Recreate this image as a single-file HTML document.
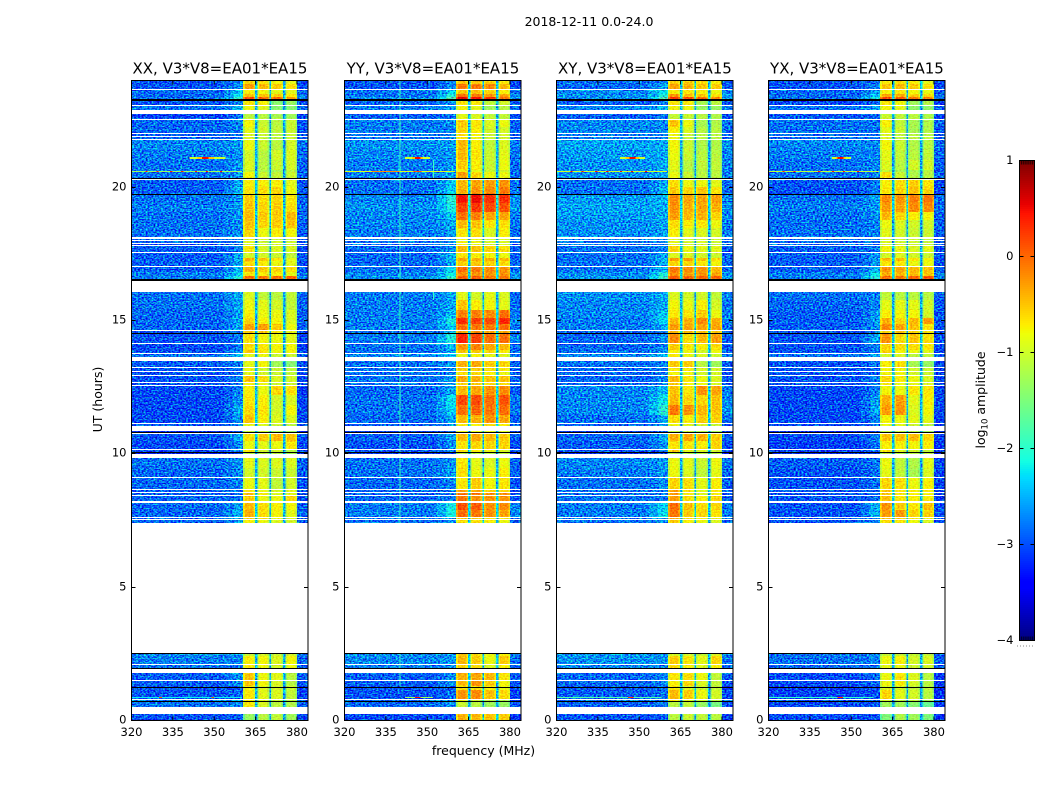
<!DOCTYPE html>
<html lang="en">
<head>
<meta charset="utf-8">
<title>2018-12-11 0.0-24.0</title>
<style>
html,body{margin:0;padding:0;background:#fff;width:1050px;height:800px;overflow:hidden}
svg{display:block}
text{font-family:"DejaVu Sans","Liberation Sans",sans-serif;fill:#000}
.tick{font-size:11.5px}
.title{font-size:15px;text-anchor:middle}
.label{font-size:12.5px;text-anchor:middle}
</style>
</head>
<body>
<svg id="chart" xmlns="http://www.w3.org/2000/svg" width="1050" height="800" viewBox="0 0 1050 800">
  <defs>
    <filter id="speckle-strong" x="0" y="0" width="1" height="1" color-interpolation-filters="sRGB">
      <feTurbulence type="fractalNoise" baseFrequency="0.52 0.72" numOctaves="1" seed="4" result="n"/>
      <feColorMatrix in="n" type="matrix" values="0.4 0 0 0 0.3  0 2.2 0 0 -0.62  0 0 1.2 0 -0.1  0 0 0 0 1" result="m"/>
      <feComposite in="SourceGraphic" in2="m" operator="arithmetic" k1="0" k2="1" k3="1" k4="-0.5" result="c"/>
      <feComposite in="c" in2="SourceAlpha" operator="in"/>
    </filter>
    <filter id="speckle-soft" x="0" y="0" width="1" height="1" color-interpolation-filters="sRGB">
      <feTurbulence type="fractalNoise" baseFrequency="0.55 0.75" numOctaves="1" seed="9" result="n"/>
      <feColorMatrix in="n" type="matrix" values="0.4 0 0 0 0.3  0 0.75 0 0 0.125  0 0 0.4 0 0.3  0 0 0 0 1" result="m"/>
      <feComposite in="SourceGraphic" in2="m" operator="arithmetic" k1="0" k2="1" k3="1" k4="-0.5" result="c"/>
      <feComposite in="c" in2="SourceAlpha" operator="in"/>
    </filter>
  </defs>
  <rect width="1050" height="800" fill="#fff"/>
  <text x="589" y="26" style="font-size:12.5px;text-anchor:middle">2018-12-11 0.0-24.0</text>
  <text class="label" x="483.5" y="755">frequency (MHz)</text>
  <text class="label" transform="translate(102,399.5) rotate(-90)">UT (hours)</text>
  <text class="label" transform="translate(985,400) rotate(-90)">log<tspan style="font-size:8.5px" dy="2.5">10</tspan><tspan dy="-2.5"> amplitude</tspan></text>
  <g id="panels"></g>
  <g id="colorbar"></g>
</svg>
<script>
/* ---------- chart data ---------- */
const panelNames = ["XX", "YY", "XY", "YX"];
const xTickValues = [320, 335, 350, 365, 380];
const yTickValues = [0, 5, 10, 15, 20];
const colorbarTicks = [1, 0, -1, -2, -3, -4];

/* frequency blocks, MHz */
const bandEdges = [[360.5, 364.8], [365.7, 370.0], [370.6, 375.0], [375.8, 380.0]];
const humpEdges = [353.5, 357, 360.5];

/* observed time blocks, hours UT (everything else is flagged and stays white) */
const rowTop = [24.00,23.85,23.63,23.48,23.36,23.21,23.03,22.73,22.56,22.50,
  22.24,21.98,21.86,21.75,21.38,21.00,20.63,20.55,20.25,19.99,
  19.69,19.39,19.05,18.75,18.45,18.04,17.96,17.85,17.78,17.51,
  17.33,17.21,16.99,16.80,16.65,16.05,15.75,15.38,15.08,14.85,
  14.59,14.48,14.10,13.88,13.73,13.46,13.20,13.05,12.90,12.64,
  12.53,12.19,11.81,11.44,11.10,10.84,10.73,10.46,10.13,10.01,
  9.83,9.45,9.08,8.63,8.51,8.40,8.14,7.88,7.58,7.50,
  2.53,2.40,2.06,1.78,1.46,1.28,1.13,0.75,0.68,0.23];
const rowBottom = [23.85,23.66,23.48,23.36,23.25,23.06,22.89,22.58,22.53,22.24,
  22.01,21.90,21.79,21.38,21.00,20.63,20.55,20.31,19.99,19.73,
  19.39,19.05,18.75,18.45,18.11,18.00,17.89,17.81,17.55,17.33,
  17.21,17.03,16.80,16.65,16.52,15.75,15.38,15.08,14.85,14.61,
  14.51,14.14,13.88,13.76,13.61,13.24,13.09,12.94,12.68,12.56,
  12.19,11.81,11.44,11.14,11.03,10.76,10.46,10.16,10.05,9.98,
  9.45,9.11,8.66,8.55,8.44,8.21,7.88,7.61,7.54,7.39,
  2.40,2.10,1.95,1.50,1.28,1.13,0.79,0.71,0.49,0.00];

/* dead integrations drawn black, hours UT [top, bottom] */
const blackTop = [23.29,20.33,19.73,16.55,14.51,10.80,10.05,2.53,1.95,1.23,0.71];
const blackBottom = [23.21,20.27,19.69,16.48,14.48,10.76,10.01,2.51,1.92,1.19,0.68];

/* log10 amplitude per row: [background, hump, band1, band2, band3, band4] */
const levelsXX = [
[-3,-2.7,-.45,-.5,-.65,-.75],[-3,-2.6,-.15,-.3,-.4,-.5],[-2.9,-2.3,-.6,-.65,-.75,-.75],[-2.9,-2.1,-.3,-.35,-.4,-.55],[-2.85,-1.8,.25,.15,.1,-.15],
[-3,-2.7,-.55,-.6,-1.3,-1.2],[-2.85,-2.4,-.7,-.75,-1.3,-1.3],[-3.1,-2.8,-1,-1,-1.1,-1.15],[-2.9,-2.7,-.9,-1,-1,-1.1],[-2.9,-2.7,-.65,-.9,-1,-.9],
[-2.9,-2.7,-.75,-.85,-.95,-.9],[-2.95,-2.8,-.8,-.9,-1,-.9],[-2.9,-2.8,-.8,-.95,-1,-.9],[-2.75,-2.6,-.7,-.9,-1,-.85],[-2.8,-2.65,-.85,-1,-.85,-.8],
[-2.85,-2.6,-.8,-1,-.9,-.85],[-2.8,-2.6,-.9,-1.05,-1.1,-1],[-2.85,-2.6,-.65,-.9,-.95,-.9],[-2.95,-2.5,-.6,-.6,-.6,-.75],[-2.95,-2.4,-.55,-.5,-.45,-.7],
[-2.85,-2.6,-.4,-.5,-.45,-.55],[-2.8,-2.6,-.35,-.45,-.4,-.5],[-2.85,-2.6,-.3,-.4,-.4,-.3],[-2.85,-2.65,-.35,-.45,-.4,-.35],[-2.85,-2.65,-.45,-.7,-.6,-.65],
[-2.9,-2.8,-.7,-.8,-.9,-.9],[-2.9,-2.8,-.75,-.9,-.85,-.9],[-3,-2.8,-.8,-.9,-.85,-.9],[-2.95,-2.7,-.55,-.8,-.8,-.8],[-2.95,-2.5,-.85,-.85,-.9,-.95],
[-2.95,-2.4,-.25,-.35,-.55,-.75],[-2.95,-2.5,-.5,-.6,-.7,-.75],[-2.95,-2.4,-.25,-.4,-.45,-.5],[-2.8,-2.3,-.55,-.6,-.6,-.75],[-2.8,-1.95,.1,.05,.1,.15],
[-2.85,-2.5,-.8,-.95,-1,-.95],[-2.85,-2.5,-.7,-.75,-.85,-.95],[-2.9,-2.55,-.6,-.7,-.7,-.8],[-2.9,-2.5,-.45,-.6,-.65,-.8],[-2.9,-2.5,-.15,-.15,-.4,-.7],
[-3,-2.8,-.35,-.4,-.55,-.7],[-3,-2.75,-.5,-.65,-.7,-.75],[-3.05,-2.75,-.5,-.55,-.65,-.65],[-3,-2.6,-.35,-.55,-.7,-.65],[-2.85,-2.4,-.75,-.7,-.9,-.9],
[-2.95,-2.7,-.75,-.65,-1.15,-1.3],[-3,-2.8,-.7,-.85,-.9,-.95],[-3,-2.8,-.75,-.85,-.9,-.95],[-3,-2.7,-.35,-.5,-.8,-.85],[-3,-2.7,-.6,-.7,-.9,-.9],
[-3.05,-2.7,-.6,-.7,-.45,-.5],[-3.05,-2.6,-.55,-.6,-.85,-.8],[-3.05,-2.45,-.45,-.55,-.85,-.65],[-3.05,-2.6,-.35,-.6,-.8,-.8],[-3,-2.6,-.7,-.8,-.9,-1],
[-3.2,-3,-.9,-.9,-1.1,-1.2],[-3,-2.45,-.5,-.4,-.3,-.35],[-3.05,-2.6,-.7,-.75,-.7,-.55],[-3.05,-2.7,-.55,-.85,-.85,-1],[-3.3,-3,-1,-1,-1,-1.1],
[-2.85,-2.65,-.75,-.8,-.8,-.8],[-2.9,-2.65,-.85,-.85,-.9,-.9],[-2.9,-2.7,-.7,-.75,-.95,-.85],[-2.95,-2.8,-.55,-.7,-.8,-.75],[-2.95,-2.8,-.3,-.6,-.8,-.75],
[-2.9,-2.8,-.4,-.7,-.7,-.45],[-2.9,-2.55,-.3,-.5,-.6,-.65],[-2.9,-2.4,-.25,-.5,-.65,-.75],[-2.9,-2.6,-.5,-.6,-.7,-.8],[-2.9,-2.6,-.6,-.7,-.8,-.85],
[-2.7,-2.6,-.9,-.85,-.9,-.85],[-2.8,-2.7,-.6,-.65,-.8,-.65],[-2.85,-2.8,-.55,-.7,-.85,-.7],[-2.95,-2.6,-.35,-.7,-.75,-1],[-2.95,-2.6,-.35,-.65,-.8,-1],
[-3,-2.9,-.65,-.8,-.85,-.9],[-3,-2.85,-.55,-.75,-.8,-.95],[-2.8,-2.6,-.6,-.8,-.9,-1],[-2.85,-2.7,-.55,-.8,-1,-1.05],[-3,-2.9,-1.2,-1,-.95,-1.15]
];
const levelsYY = [
[-3,-2.7,-.35,-.35,-.4,-.55],[-3,-2.6,.05,.05,-.05,-.3],[-2.85,-2.2,-.35,-.35,-.45,-.6],[-2.85,-1.9,.1,.05,-.1,-.2],[-2.7,-1.6,.7,.6,.4,.1],
[-2.9,-2.6,-.55,-.55,-.95,-.85],[-2.8,-2.5,-.65,-.75,-1.15,-1],[-2.95,-2.8,-.75,-.8,-.95,-.95],[-2.9,-2.7,-.7,-.8,-.9,-1],[-2.8,-2.7,-.4,-.55,-.8,-.7],
[-2.8,-2.7,-.45,-.6,-.85,-.85],[-2.85,-2.75,-.5,-.65,-.9,-.85],[-2.85,-2.7,-.5,-.7,-.9,-.85],[-2.7,-2.55,-.3,-.6,-.95,-.8],[-2.75,-2.6,-.3,-.55,-.9,-.75],
[-2.8,-2.6,-.4,-.6,-.9,-.7],[-2.8,-2.6,-.6,-.75,-.9,-.85],[-2.8,-2.55,-.15,-.45,-.7,-.7],[-2.85,-2.3,-.3,-.2,-.15,-.1],[-2.85,-2.2,-.25,-.1,-.05,.05],
[-2.75,-1.9,.6,.65,.45,.45],[-2.7,-2,.35,.4,.3,.25],[-2.75,-2.3,.1,0,-.2,-.2],[-2.75,-2.5,-.3,-.35,-.55,-.5],[-2.8,-2.55,-.55,-.5,-.8,-.6],
[-2.85,-2.7,-.65,-.7,-.85,-.8],[-2.85,-2.7,-.65,-.7,-.85,-.8],[-2.9,-2.7,-.6,-.7,-.85,-.8],[-2.9,-2.6,-.3,-.35,-.45,-.5],[-2.9,-2.45,-.55,-.6,-.65,-.7],
[-2.9,-2.3,-.2,-.25,-.25,-.3],[-2.9,-2.5,-.4,-.4,-.45,-.5],[-2.85,-2.2,.1,.05,-.05,-.1],[-2.75,-2.1,-.05,-.1,-.1,-.1],[-2.7,-1.85,.2,.2,.05,.05],
[-2.8,-2.5,-.75,-.85,-.75,-.8],[-2.8,-2.5,-.35,-.6,-.65,-.75],[-2.8,-2.4,0,0,-.05,.1],[-2.8,-2,.45,.35,.3,.5],[-2.8,-2.3,.1,.05,.05,.1],
[-2.85,-2.5,-.2,-.1,-.2,-.2],[-2.8,-1.95,.5,.35,.1,.1],[-2.85,-2.4,-.1,0,-.2,-.3],[-2.85,-2.5,-.35,-.4,-.5,-.6],[-2.75,-2.3,-.7,-.65,-.75,-.8],
[-2.85,-2.6,-.25,-.2,-.4,-.45],[-2.85,-2.7,-.4,-.4,-.5,-.55],[-2.85,-2.7,-.5,-.5,-.6,-.7],[-2.85,-2.6,-.2,-.25,-.35,-.35],[-2.85,-2.6,-.45,-.4,-.5,-.5],
[-2.9,-2.5,-.3,-.2,-.1,-.05],[-2.85,-2.1,.3,.3,.1,.25],[-2.85,-2.2,.1,.15,.05,.1],[-2.9,-2.5,-.3,-.25,-.1,-.2],[-2.95,-2.6,-.6,-.6,-.5,-.6],
[-3.1,-2.9,-.7,-.7,-.75,-.8],[-2.95,-2.5,-.3,-.2,-.3,-.4],[-3,-2.6,-.55,-.45,-.45,-.45],[-3,-2.7,-.5,-.6,-.7,-.8],[-3.2,-3,-1,-1,-1,-1],
[-2.85,-2.6,-.55,-.75,-.8,-.7],[-2.85,-2.55,-.5,-.7,-.7,-.6],[-2.9,-2.7,-.55,-.4,-.65,-.55],[-2.9,-2.8,-.2,-.2,-.4,-.45],[-2.9,-2.8,.1,.05,-.1,-.1],
[-2.9,-2.7,.05,-.1,-.1,-.1],[-2.8,-2,.25,.2,-.1,-.05],[-2.8,-2,.1,.05,-.1,-.2],[-2.85,-2.6,-.4,-.4,-.5,-.6],[-2.9,-2.65,-.5,-.5,-.6,-.7],
[-2.7,-2.6,-.4,-.5,-.7,-.6],[-2.75,-2.6,-.3,-.4,-.7,-.4],[-2.8,-2.7,-.4,-.5,-.8,-.6],[-2.95,-2.6,-.25,-.2,-.3,-.55],[-2.95,-2.6,-.3,-.1,-.4,-.65],
[-3,-2.85,-.5,-.5,-.6,-.7],[-3,-2.8,-.1,-.05,-.35,-.5],[-2.85,-2.7,-.7,-.9,-1,-1.1],[-2.9,-2.6,-.9,-1,-1.15,-1.2],[-3.05,-2.9,-.25,-.3,-.35,-.4]
];
const levelsXY = [
[-2.85,-2.7,-.4,-.4,-.5,-.6],[-2.9,-2.5,-.2,-.25,-.35,-.4],[-2.75,-2.2,-.6,-.55,-.6,-.7],[-2.7,-2,-.1,-.3,-.4,-.5],[-2.7,-1.7,.4,.25,.15,-.05],
[-2.95,-2.7,-.55,-.55,-1.1,-1],[-2.75,-2.4,-.65,-.7,-1.2,-1.2],[-2.95,-2.8,-.95,-.9,-1,-1.05],[-2.9,-2.7,-.9,-1,-1,-1.1],[-2.75,-2.7,-.35,-.7,-1.1,-1.05],
[-2.75,-2.7,-.6,-.8,-1,-1],[-2.8,-2.75,-.7,-.9,-1,-1],[-2.8,-2.7,-.7,-.95,-1,-1],[-2.6,-2.5,-.65,-.9,-1.05,-1.05],[-2.65,-2.5,-.7,-.9,-1,-1],
[-2.7,-2.5,-.75,-1,-.95,-.95],[-2.7,-2.5,-.85,-1.05,-1.05,-1],[-2.7,-2.5,-.7,-.9,-1,-1],[-2.85,-2.5,-.5,-.7,-.7,-.75],[-2.85,-2.4,-.4,-.45,-.35,-.55],
[-2.65,-2.4,-.05,-.2,-.2,-.15],[-2.6,-2.5,-.1,-.25,-.2,-.25],[-2.65,-2.5,-.15,-.3,-.25,-.45],[-2.7,-2.55,-.5,-.6,-.55,-.7],[-2.7,-2.55,-.6,-.75,-.8,-.85],
[-2.8,-2.7,-.75,-.85,-.85,-.9],[-2.8,-2.7,-.75,-.85,-.85,-.9],[-2.8,-2.7,-.75,-.85,-.85,-.9],[-2.85,-2.7,-.45,-.7,-.75,-.75],[-2.85,-2.55,-.8,-.8,-.85,-.9],
[-2.85,-2.4,-.15,-.15,-.35,-.5],[-2.85,-2.5,-.45,-.45,-.55,-.65],[-2.85,-2.4,.05,-.05,-.1,-.3],[-2.7,-2,-.05,-.15,-.1,-.2],[-2.7,-1.8,.2,.2,.15,.15],
[-2.7,-2.5,-.8,-.85,-.85,-.95],[-2.75,-2.5,-.65,-.7,-.6,-.85],[-2.75,-2.3,-.55,-.55,-.4,-.7],[-2.8,-2.2,-.3,-.25,-.05,-.25],[-2.8,-2.5,-.15,-.2,-.2,-.2],
[-2.9,-2.6,-.3,-.25,-.35,-.35],[-2.9,-2.6,-.05,-.5,-.3,-.15],[-2.9,-2.7,-.4,-.55,-.6,-.5],[-2.85,-2.6,-.6,-.7,-.85,-.7],[-2.75,-2.4,-.55,-.7,-.8,-.9],
[-2.85,-2.7,-.4,-.4,-1,-1.15],[-2.9,-2.8,-.55,-.6,-.8,-.85],[-2.9,-2.8,-.65,-.7,-.85,-.85],[-2.9,-2.7,-.3,-.55,-.7,-.8],[-2.9,-2.7,-.4,-.6,-.7,-.8],
[-2.75,-2.4,-.35,-.55,-.1,-.2],[-2.75,-2.1,-.3,-.45,-.45,-.35],[-2.75,-1.9,.05,-.1,-.3,-.35],[-2.85,-2.5,-.5,-.6,-.4,-.45],[-2.95,-2.7,-.7,-.75,-.85,-.9],
[-3.1,-2.9,-.95,-.9,-1.05,-1.1],[-2.9,-2.45,-.25,-.2,-.25,-.4],[-2.95,-2.6,-.55,-.55,-.6,-.45],[-3,-2.7,-.4,-.75,-.8,-.85],[-3.2,-3,-1,-1,-1,-1],
[-2.75,-2.6,-.7,-.75,-.9,-.7],[-2.8,-2.6,-.7,-.8,-.95,-.75],[-2.85,-2.65,-.45,-.5,-.75,-.6],[-2.85,-2.75,-.15,-.5,-.75,-.55],[-2.85,-2.75,-.15,-.55,-.8,-.6],
[-2.85,-2.75,-.15,-.5,-.6,-.45],[-2.8,-2.2,.1,-.35,-.5,-.45],[-2.8,-2.1,.05,-.4,-.45,-.55],[-2.85,-2.6,-.2,-.5,-.6,-.7],[-2.85,-2.6,-.4,-.6,-.7,-.8],
[-2.65,-2.6,-.85,-.85,-.9,-.8],[-2.7,-2.65,-.4,-.55,-.75,-.45],[-2.75,-2.7,-.5,-.6,-.8,-.6],[-2.9,-2.7,-.55,-.5,-.7,-.95],[-2.9,-2.7,-.6,-.45,-.8,-.95],
[-3,-2.85,-.55,-.8,-.9,-.95],[-2.95,-2.8,-.3,-.4,-.7,-.85],[-2.8,-2.7,-.6,-.8,-.9,-1],[-2.95,-2.8,-1,-.95,-1.2,-1.4],[-3,-2.9,-1,-.9,-.95,-1]
];
const levelsYX = [
[-3,-2.8,-.55,-.5,-.6,-.75],[-3,-2.7,-.35,-.3,-.4,-.5],[-2.9,-2.5,-.6,-.55,-.65,-.7],[-2.9,-2.3,-.2,-.25,-.4,-.45],[-2.85,-2,.3,.2,.1,0],
[-3.05,-2.8,-.55,-.65,-1.15,-1.05],[-2.85,-2.5,-.65,-.75,-1.25,-1.25],[-3,-2.85,-.9,-.95,-1,-1.05],[-2.95,-2.8,-.85,-1,-1,-1.1],[-2.85,-2.8,-.6,-.95,-1.1,-1.05],
[-2.85,-2.8,-.75,-.9,-1.1,-1.05],[-2.9,-2.8,-.8,-.95,-1,-1],[-2.9,-2.8,-.8,-1,-1,-1],[-2.75,-2.7,-.65,-.9,-1.05,-1],[-2.8,-2.7,-.75,-.95,-1,-.95],
[-2.85,-2.7,-.8,-1,-.85,-.85],[-2.85,-2.7,-.95,-1.1,-1.1,-1],[-2.85,-2.7,-.5,-.9,-1.05,-1],[-3,-2.7,-.6,-.5,-.4,-.55],[-3,-2.7,-.55,-.45,-.35,-.45],
[-2.85,-2.55,-.05,-.1,0,.05],[-2.8,-2.6,-.15,-.2,-.05,-.05],[-2.85,-2.65,-.3,-.45,-.6,-.65],[-2.85,-2.7,-.7,-.8,-.85,-.85],[-2.85,-2.7,-.75,-.85,-.9,-.9],
[-2.9,-2.8,-.8,-.85,-.9,-.95],[-2.9,-2.8,-.8,-.85,-.9,-.95],[-2.9,-2.8,-.8,-.85,-.9,-.95],[-2.95,-2.75,-.65,-.7,-.8,-.75],[-2.95,-2.6,-.85,-.8,-.85,-.9],
[-2.95,-2.5,-.3,-.35,-.55,-.65],[-2.95,-2.6,-.55,-.55,-.7,-.7],[-2.95,-2.4,-.1,-.2,-.3,-.35],[-2.8,-2.1,-.25,-.3,-.3,-.35],[-2.8,-1.9,.1,.05,.15,.25],
[-2.85,-2.7,-.95,-1,-1,-1],[-2.9,-2.7,-.75,-.75,-.75,-.85],[-2.95,-2.6,-.6,-.65,-.65,-.85],[-2.95,-2.55,-.25,-.45,-.3,-.15],[-2.95,-2.6,-.05,-.2,-.35,-.55],
[-3.05,-2.7,-.45,-.3,-.45,-.55],[-3,-2.45,-.1,-.5,-.35,-.5],[-3,-2.7,-.45,-.5,-.5,-.55],[-3,-2.75,-.45,-.65,-.7,-.75],[-2.85,-2.5,-.85,-.8,-1,-.95],
[-3,-2.8,-.6,-.5,-1.1,-1.2],[-3,-2.85,-.65,-.65,-.85,-.9],[-3,-2.85,-.65,-.65,-.85,-.9],[-3,-2.75,-.45,-.6,-.7,-.8],[-3,-2.75,-.6,-.7,-.75,-.8],
[-3.05,-2.7,-.65,-.7,-.55,-.55],[-3.05,-2.5,-.25,-.15,-.75,-.6],[-3.05,-2.45,-.15,-.1,-.8,-.65],[-3.05,-2.7,-.65,-.7,-.75,-.75],[-3.05,-2.8,-.7,-.75,-.9,-1],
[-3.2,-3,-.95,-.95,-1.05,-1.15],[-3.05,-2.7,-.35,-.35,-.3,-.45],[-3.1,-2.75,-.6,-.6,-.65,-.6],[-3.1,-2.8,-.55,-.75,-.85,-.95],[-3.2,-3.1,-1,-1,-1,-1],
[-2.95,-2.75,-.7,-.95,-1.05,-.75],[-3,-2.8,-.75,-.95,-1.1,-.8],[-3,-2.8,-.45,-.5,-.7,-.6],[-3,-2.85,-.35,-.55,-.6,-.6],[-3,-2.85,-.35,-.55,-.6,-.6],
[-3,-2.85,-.35,-.55,-.6,-.6],[-3,-2.4,-.1,-.4,-.55,-.35],[-3,-2.4,-.15,-.15,-.45,-.45],[-3,-2.7,-.3,-.4,-.6,-.7],[-3,-2.7,-.5,-.55,-.7,-.8],
[-2.85,-2.7,-.95,-.9,-.95,-.95],[-2.85,-2.7,-.7,-.6,-.85,-.8],[-2.9,-2.8,-.75,-.7,-.9,-.85],[-3.05,-2.8,-.7,-.55,-.8,-1],[-3.05,-2.8,-.7,-.6,-.85,-1],
[-3.1,-3,-.8,-.85,-.95,-1],[-3.1,-2.95,-.45,-.75,-.85,-1],[-2.95,-2.8,-.85,-1,-1,-1.1],[-3.05,-2.9,-1.15,-1.15,-1.3,-1.5],[-3.05,-2.95,-1.35,-1.05,-1.15,-1.35]
];
const panelLevels = [levelsXX, levelsYY, levelsXY, levelsYX];

/* narrow-band interference: [hour, start MHz, end MHz, log10 amplitude] */
const rfiXX = [[21.08,341,354,-1.0],[21.08,344,350,-.5],[21.08,345.5,348,.5],[20.58,320,360,-1.3],[20.58,325,325.8,.4],[20.58,329,329.8,.4],[20.58,334,334.8,.4],[20.58,338,338.8,.4],[20.58,343,343.8,.4],[20.58,347,347.8,.4],[20.58,352,352.8,.4],[0.84,320,360,-2.2],[0.84,330,331,.1],[0.84,349,350,.1]];
const rfiYY = [[21.08,342,351,-1.0],[21.08,344.5,348.5,-.5],[21.08,345.5,347.5,.5],[20.58,320,360,-.9],[20.58,330,340,-.2],[20.58,345,348,.1],[0.84,342,352,-1.3],[0.84,345.5,347.5,.5]];
const rfiXY = [[21.08,343,352,-1.0],[21.08,345,350,-.5],[21.08,346.5,348.7,.5],[20.58,320,360,-1],[20.58,325,325.8,.5],[20.58,329,329.8,.5],[20.58,334,334.8,.5],[20.58,338,338.8,.5],[20.58,343,343.8,.5],[20.58,347,347.8,.5],[20.58,352,352.8,.5],[0.84,320,358,-1.8],[0.84,346,348,.3]];
const rfiYX = [[21.08,343,350,-1.0],[21.08,344.5,348,-.5],[21.08,345,347.2,.5],[20.58,320,360,-1.1],[20.58,325,325.8,.4],[20.58,329,329.8,.4],[20.58,338,338.8,.4],[20.58,343,343.8,.4],[20.58,347,347.8,.4],[20.58,352,352.8,.4],[0.84,320,358,-2],[0.84,345,347,.3]];
const panelRfi = [rfiXX, rfiYY, rfiXY, rfiYX];

/* vertical interference: [MHz, top hour, bottom hour, log10 amplitude] */
const spurYY = [[340,24,2.53,-1.9],[340,2.53,1.2,-1.9],[352,21.2,20.3,-1.9],[352,16.05,15.4,-1.9]];
const panelSpurs = [[], spurYY, [], []];

/* ---------- axis functions ---------- */
const NS = "http://www.w3.org/2000/svg";
const panelLeft = [131.5, 344.5, 556.5, 768.5];
const panelWidth = 176.5, plotTop = 80.5, plotBottom = 720.5;
const freqMin = 320, freqMax = 384, hourMin = 0, hourMax = 24;
const fx = (p, f) => panelLeft[p] + (f - freqMin) / (freqMax - freqMin) * panelWidth;
const hy = h => 720 - (h - hourMin) / (hourMax - hourMin) * 640;

function lerpStops(t, s) {
  for (let i = 1; i < s.length; i++) {
    if (t <= s[i][0]) {
      const a = s[i - 1], b = s[i];
      return a[1] + (b[1] - a[1]) * (t - a[0]) / (b[0] - a[0]);
    }
  }
  return s[s.length - 1][1];
}
const jetR = [[0,0],[.35,0],[.66,1],[.89,1],[1,.5]];
const jetG = [[0,0],[.125,0],[.375,1],[.64,1],[.91,0],[1,0]];
const jetB = [[0,.5],[.11,1],[.34,1],[.65,0],[1,0]];
function jet(v) {
  const t = Math.max(0, Math.min(1, (v + 4) / 5));
  const c = ch => Math.round(255 * lerpStops(t, ch));
  return "rgb(" + c(jetR) + "," + c(jetG) + "," + c(jetB) + ")";
}
function mk(tag, attrs, parent) {
  const el = document.createElementNS(NS, tag);
  for (const k in attrs) el.setAttribute(k, attrs[k]);
  parent.appendChild(el);
  return el;
}
function cell(parent, x0, x1, y0, y1, v) {
  const top = Math.round(y0), bottom = Math.max(Math.round(y1), top + 1);
  const el = mk("rect", {x: x0, y: top, width: x1 - x0, height: bottom - top, fill: jet(v), "shape-rendering": "crispEdges"}, parent);
  
  
  return el;
}

/* ---------- panels ---------- */
const panelsRoot = document.getElementById("panels");
panelNames.forEach((name, p) => {
  const g = mk("g", {}, panelsRoot);
  
  

  const bgLayer = mk("g", {filter: "url(#speckle-strong)"}, g);
  
  
  const bandLayer = mk("g", {filter: "url(#speckle-soft)"}, g);
  
  
  const overlay = mk("g", {}, g);
  
  

  panelLevels[p].forEach((row, r) => {
    const y0 = hy(rowTop[r]), y1 = hy(rowBottom[r]);
    const bg = row[0] + 0.05, hump = row[1];
    cell(bgLayer, fx(p, freqMin), fx(p, humpEdges[0]), y0, y1, bg);
    cell(bgLayer, fx(p, humpEdges[0]), fx(p, humpEdges[1]), y0, y1, bg + (hump - bg) * 0.35);
    cell(bgLayer, fx(p, humpEdges[1]), fx(p, humpEdges[2]), y0, y1, bg + (hump - bg) * 0.85);
    bandEdges.forEach((edge, b) => {
      const s = row[2 + b] - 0.12;
      const inset = 0.6;
      cell(bandLayer, fx(p, edge[0]), fx(p, edge[0] + inset), y0, y1, s - 0.28);
      cell(bandLayer, fx(p, edge[0] + inset), fx(p, edge[1] - inset), y0, y1, s);
      cell(bandLayer, fx(p, edge[1] - inset), fx(p, edge[1]), y0, y1, s - 0.28);
      if (b < bandEdges.length - 1) {
        const nextS = row[3 + b];
        cell(bgLayer, fx(p, edge[1]), fx(p, bandEdges[b + 1][0]), y0, y1, -2.45 + 0.3 * ((s + nextS) / 2 + 0.7));
      }
    });
    cell(bgLayer, fx(p, 380), fx(p, freqMax), y0, y1, bg + (hump - bg) * 0.22 - 0.12);

    panelSpurs[p].forEach(sp => {
      if (rowTop[r] <= sp[1] && rowBottom[r] >= sp[2]) {
        const sx = fx(p, sp[0]);
        cell(overlay, sx, sx + 1, y0, y1, sp[3]);
      }
    });
  });

  panelRfi[p].forEach(l => {
    const yy = Math.floor(hy(l[0]));
    const span = l[0] > 21 ? 2 : 1;
    cell(overlay, fx(p, l[1]), fx(p, l[2]), yy, yy + span, l[3]);
  });

  blackTop.forEach((t, i) => {
    const top = Math.round(hy(t));
    const line = mk("rect", {x: panelLeft[p], y: top, width: panelWidth, height: Math.max(1, Math.round(hy(blackBottom[i])) - top), fill: "#000", "shape-rendering": "crispEdges"}, g);
    
    
  });

  const frame = mk("rect", {x: panelLeft[p], y: plotTop, width: panelWidth, height: plotBottom - plotTop, fill: "none", stroke: "#000", "stroke-width": 1}, g);
  
  

  const title = mk("text", {class: "title", x: panelLeft[p] + panelWidth / 2 + 0.2, y: 73.5}, g);
  title.textContent = name + ", V3*V8=EA01*EA15";
  
  

  xTickValues.forEach(f => {
    const tx = fx(p, f);
    const tb = mk("line", {x1: tx, x2: tx, y1: plotBottom, y2: plotBottom - 4, stroke: "#000"}, g);
    
    
    const tt = mk("line", {x1: tx, x2: tx, y1: plotTop, y2: plotTop + 4, stroke: "#000"}, g);
    
    
    const lab = mk("text", {class: "tick", x: tx, y: 736, "text-anchor": "middle"}, g);
    lab.textContent = f;
    
    
  });
  yTickValues.forEach(h => {
    const ty = Math.round(hy(h)) + 0.5;
    const tl = mk("line", {x1: panelLeft[p], x2: panelLeft[p] + 4, y1: ty, y2: ty, stroke: "#000"}, g);
    
    
    const tr = mk("line", {x1: panelLeft[p] + panelWidth, x2: panelLeft[p] + panelWidth - 4, y1: ty, y2: ty, stroke: "#000"}, g);
    
    
    const lab = mk("text", {class: "tick", x: panelLeft[p] - 5, y: ty + 3, "text-anchor": "end"}, g);
    lab.textContent = h;
    
    
  });
});

/* ---------- colorbar ---------- */
const cb = document.getElementById("colorbar");
const cbLeft = 1019.5, cbRight = 1034.5, cbTop = 160.5, cbBottom = 640.5;
const cbY = v => cbBottom - (v + 4) / 5 * (cbBottom - cbTop);
for (let i = 0; i < 240; i++) {
  const v0 = -4 + 5 * i / 240, v1 = -4 + 5 * (i + 1) / 240;
  const seg = mk("rect", {x: cbLeft, y: cbY(v1), width: cbRight - cbLeft, height: cbY(v0) - cbY(v1) + 0.5, fill: jet((v0 + v1) / 2), "shape-rendering": "crispEdges"}, cb);
  
  
}
const cbFrame = mk("rect", {x: cbLeft, y: cbTop, width: cbRight - cbLeft, height: cbBottom - cbTop, fill: "none", stroke: "#000"}, cb);


colorbarTicks.forEach(v => {
  const ty = cbY(v);
  const a = mk("line", {x1: cbLeft, x2: cbLeft + 4, y1: ty, y2: ty, stroke: "#000"}, cb);
  
  
  const b = mk("line", {x1: cbRight, x2: cbRight - 4, y1: ty, y2: ty, stroke: "#000"}, cb);
  
  
  const lab = mk("text", {class: "tick", x: 1013.5, y: ty + 3.5, "text-anchor": "end"}, cb);
  lab.textContent = String(v).replace("-", "\u2212");
  
  
});
for (let i = 1; i < 8; i++) {
  const mx = cbLeft + i * (cbRight - cbLeft) / 8;
  const top = mk("line", {x1: mx, x2: mx, y1: cbTop, y2: cbTop + 4, stroke: "#000", "stroke-opacity": 0.75}, cb);
  
  
  const bot = mk("line", {x1: mx, x2: mx, y1: cbBottom, y2: cbBottom - 4, stroke: "#000", "stroke-opacity": 0.75}, cb);
  
  
}
const dots = mk("line", {x1: 1017, x2: 1035, y1: 646, y2: 646, stroke: "#888", "stroke-dasharray": "1 2"}, cb);


</script>
</body>
</html>
